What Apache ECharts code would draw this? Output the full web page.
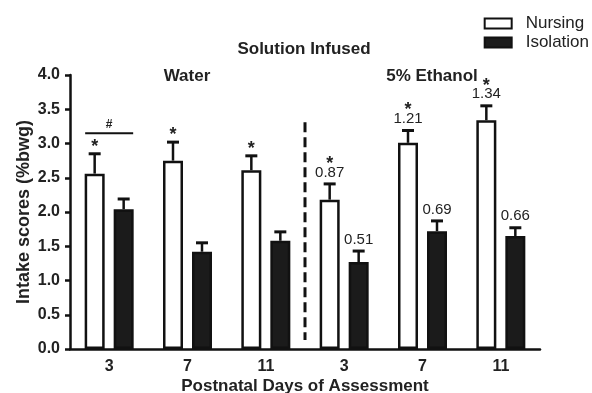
<!DOCTYPE html>
<html>
<head>
<meta charset="utf-8">
<script src="https://cdn.jsdelivr.net/npm/echarts@6/dist/echarts.min.js"></script>
<style>
  html, body { margin: 0; padding: 0; background: #fff; }
  #chart { width: 592px; height: 393px; }
</style>
</head>
<body>
<div id="chart"></div>
<script>
// postnatal days, water groups first, then 5% ethanol
const days = ["3", "7", "11", "3", "7", "11"];
const nursingMean = [2.56, 2.75, 2.61, 2.18, 3.01, 3.34];
const nursingSem = [0.29, 0.27, 0.21, 0.23, 0.18, 0.21];
const isolationMean = [2.04, 1.42, 1.58, 1.27, 1.72, 1.65];
const isolationSem = [0.15, 0.13, 0.13, 0.16, 0.15, 0.12];
// annotations above the error bars
const nursingStars = ["*", "*", "*", "*", "*", "*"];
const nursingNotes = ["", "", "", "0.87", "1.21", "1.34"];
const isolationNotes = ["", "", "", "0.51", "0.69", "0.66"];
const yTicks = [0, 0.5, 1, 1.5, 2, 2.5, 3, 3.5, 4];

const FONT = "Arial, 'Liberation Sans', sans-serif";
const BAR_W = 20;
const OFFSET = 14.5; // half of bar width + gap

const chart = echarts.init(document.getElementById("chart"));

// upper error bar + text annotations
const errorSeries = (name, means, sems, stars, notes, shift) => ({
  type: "custom",
  name: name + " err",
  z: 5,
  data: means.map((m, i) => [i, m, m + sems[i]]),
  encode: { x: 0, y: 1 },
  renderItem: (params, api) => {
    const i = api.value(0);
    const base = api.coord([i, api.value(1)]);
    const top = api.coord([i, api.value(2)]);
    const x = base[0] + shift;
    const children = [
      { type: "line", shape: { x1: x, y1: base[1], x2: x, y2: top[1] },
        style: { stroke: "#111", lineWidth: 2.5 } },
      { type: "line", shape: { x1: x - 6, y1: top[1], x2: x + 6, y2: top[1] },
        style: { stroke: "#111", lineWidth: 3 } }
    ];
    let y = top[1] - 4;
    if (notes[i]) {
      children.push({ type: "text", style: {
        text: notes[i], x: x, y: y, align: "center", verticalAlign: "bottom",
        font: "15px " + FONT, fill: "#222" } });
      y -= 13;
    }
    if (stars && stars[i]) {
      children.push({ type: "text", style: {
        text: stars[i], x: x, y: y + 6, align: "center", verticalAlign: "bottom",
        font: "bold 18px " + FONT, fill: "#222" } });
    }
    return { type: "group", children: children };
  }
});

chart.setOption({
  animation: false,
  textStyle: { fontFamily: FONT },
  title: [
    { text: "Solution Infused", left: 299, top: 36, textAlign: "center",
      textStyle: { fontSize: 17, fontWeight: "bold", color: "#222" } },
    { text: "Water", left: 182, top: 63, textAlign: "center",
      textStyle: { fontSize: 17, fontWeight: "bold", color: "#222" } },
    { text: "5% Ethanol", left: 427, top: 63, textAlign: "center",
      textStyle: { fontSize: 17, fontWeight: "bold", color: "#222" } }
  ],
  legend: {
    orient: "vertical",
    right: -2,
    top: 10,
    icon: "rect",
    itemWidth: 27,
    itemHeight: 10,
    itemGap: 2,
    data: ["Nursing", "Isolation"],
    textStyle: { fontSize: 17, color: "#222", padding: [0, 0, 0, 9] }
  },
  grid: { left: 70, right: 52, top: 75, bottom: 44, outerBoundsMode: "none" },
  xAxis: {
    type: "category",
    data: days,
    name: "Postnatal Days of Assessment",
    nameLocation: "middle",
    nameGap: 29,
    nameMoveOverlap: false,
    nameTextStyle: { fontSize: 17, fontWeight: "bold", color: "#222" },
    axisLine: { lineStyle: { color: "#111", width: 2.5 } },
    axisTick: { show: false },
    axisLabel: { fontSize: 16, fontWeight: "bold", color: "#222", margin: 10 }
  },
  yAxis: {
    type: "value",
    min: 0,
    max: 4,
    interval: 0.5,
    name: "Intake scores (%bwg)",
    nameLocation: "middle",
    nameGap: 37,
    nameMoveOverlap: false,
    nameTextStyle: { fontSize: 18, fontWeight: "bold", color: "#222" },
    splitLine: { show: false },
    axisLine: { show: true, lineStyle: { color: "#111", width: 2.5 } },
    axisTick: { show: true, length: 5, lineStyle: { width: 2.5, color: "#111" } },
    axisLabel: { fontSize: 16, fontWeight: "bold", color: "#222", margin: 10,
      formatter: v => yTicks.includes(v) ? v.toFixed(1) : "" }
  },
  series: [
    {
      name: "Nursing",
      type: "bar",
      data: nursingMean,
      barWidth: BAR_W,
      barGap: "45%",
      itemStyle: { color: "#fff", borderColor: "#111", borderWidth: 2.5 }
    },
    {
      name: "Isolation",
      type: "bar",
      data: isolationMean,
      barWidth: BAR_W,
      itemStyle: { color: "#1b1b1b", borderColor: "#111", borderWidth: 2.5 }
    },
    errorSeries("Nursing", nursingMean, nursingSem, nursingStars, nursingNotes, -OFFSET),
    errorSeries("Isolation", isolationMean, isolationSem, null, isolationNotes, OFFSET),
    {
      // "#" bracket over day 3 water, plus the dashed divider
      type: "custom",
      z: 6,
      data: [[0, 3.15]],
      renderItem: (params, api) => {
        const p = api.coord([api.value(0), api.value(1)]);
        const a = api.coord([2, 0]);
        const b = api.coord([3, 0]);
        const mid = (a[0] + b[0]) / 2;
        const t = api.coord([0, 3.31]);
        const bot = api.coord([0, 0.13]);
        return { type: "group", children: [
          { type: "line", shape: { x1: p[0] - 24, y1: p[1], x2: p[0] + 24, y2: p[1] },
            style: { stroke: "#111", lineWidth: 2 } },
          { type: "text", style: { text: "#", x: p[0], y: p[1] - 3, align: "center",
            verticalAlign: "bottom", font: "bold 12px " + FONT, fill: "#222" } },
          { type: "line", shape: { x1: mid, y1: t[1], x2: mid, y2: bot[1] },
            style: { stroke: "#111", lineWidth: 3, lineDash: [10, 5] } }
        ] };
      }
    }
  ]
});
</script>
</body>
</html>
